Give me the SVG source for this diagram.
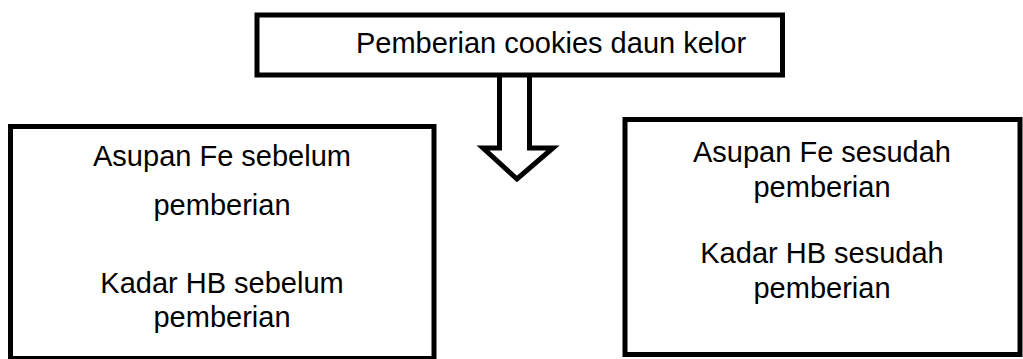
<svg xmlns="http://www.w3.org/2000/svg" width="1023" height="359" viewBox="0 0 1023 359">
  <style>
    .box { fill: #ffffff; stroke: #000000; stroke-width: 5; }
    .lbl { font-family: "Liberation Sans", Arial, sans-serif; font-size: 29px; fill: #000000; text-anchor: middle; }
    .conn { fill: none; stroke: #000000; stroke-width: 5; }
  </style>
  <defs>
    <filter id="shadow" x="-10%" y="-200%" width="120%" height="500%">
      <feDropShadow dx="0" dy="3" stdDeviation="1.5" flood-color="#000000" flood-opacity="0.35"/>
    </filter>
  </defs>

  <rect width="1023" height="359" fill="#ffffff"/>

  <!-- connector between the two measurement boxes -->
  <g id="connectors">
    <line class="conn" x1="434" y1="239.5" x2="625" y2="239.5" filter="url(#shadow)"/>
  </g>

  <!-- treatment box with block arrow -->
  <g id="treatment">
    <path class="conn" stroke-linejoin="miter" d="M499.5,75 V148 H483 L517,179 L553,148 H529.5 V75"/>
    <rect class="box" x="257" y="15" width="525.5" height="60" stroke-width="4.5"/>
    <text class="lbl" x="551" y="53">Pemberian cookies daun kelor</text>
  </g>

  <!-- before treatment -->
  <g id="before">
    <rect class="box" x="10.5" y="126.5" width="423.5" height="232"/>
    <text class="lbl" x="222" y="166">Asupan Fe sebelum</text>
    <text class="lbl" x="222" y="215">pemberian</text>
    <text class="lbl" x="222" y="293">Kadar HB sebelum</text>
    <text class="lbl" x="222" y="327">pemberian</text>
  </g>

  <!-- after treatment -->
  <g id="after">
    <rect class="box" x="625" y="119.5" width="395" height="235"/>
    <text class="lbl" x="822" y="162">Asupan Fe sesudah</text>
    <text class="lbl" x="822" y="197">pemberian</text>
    <text class="lbl" x="822" y="263">Kadar HB sesudah</text>
    <text class="lbl" x="822" y="298">pemberian</text>
  </g>
</svg>
